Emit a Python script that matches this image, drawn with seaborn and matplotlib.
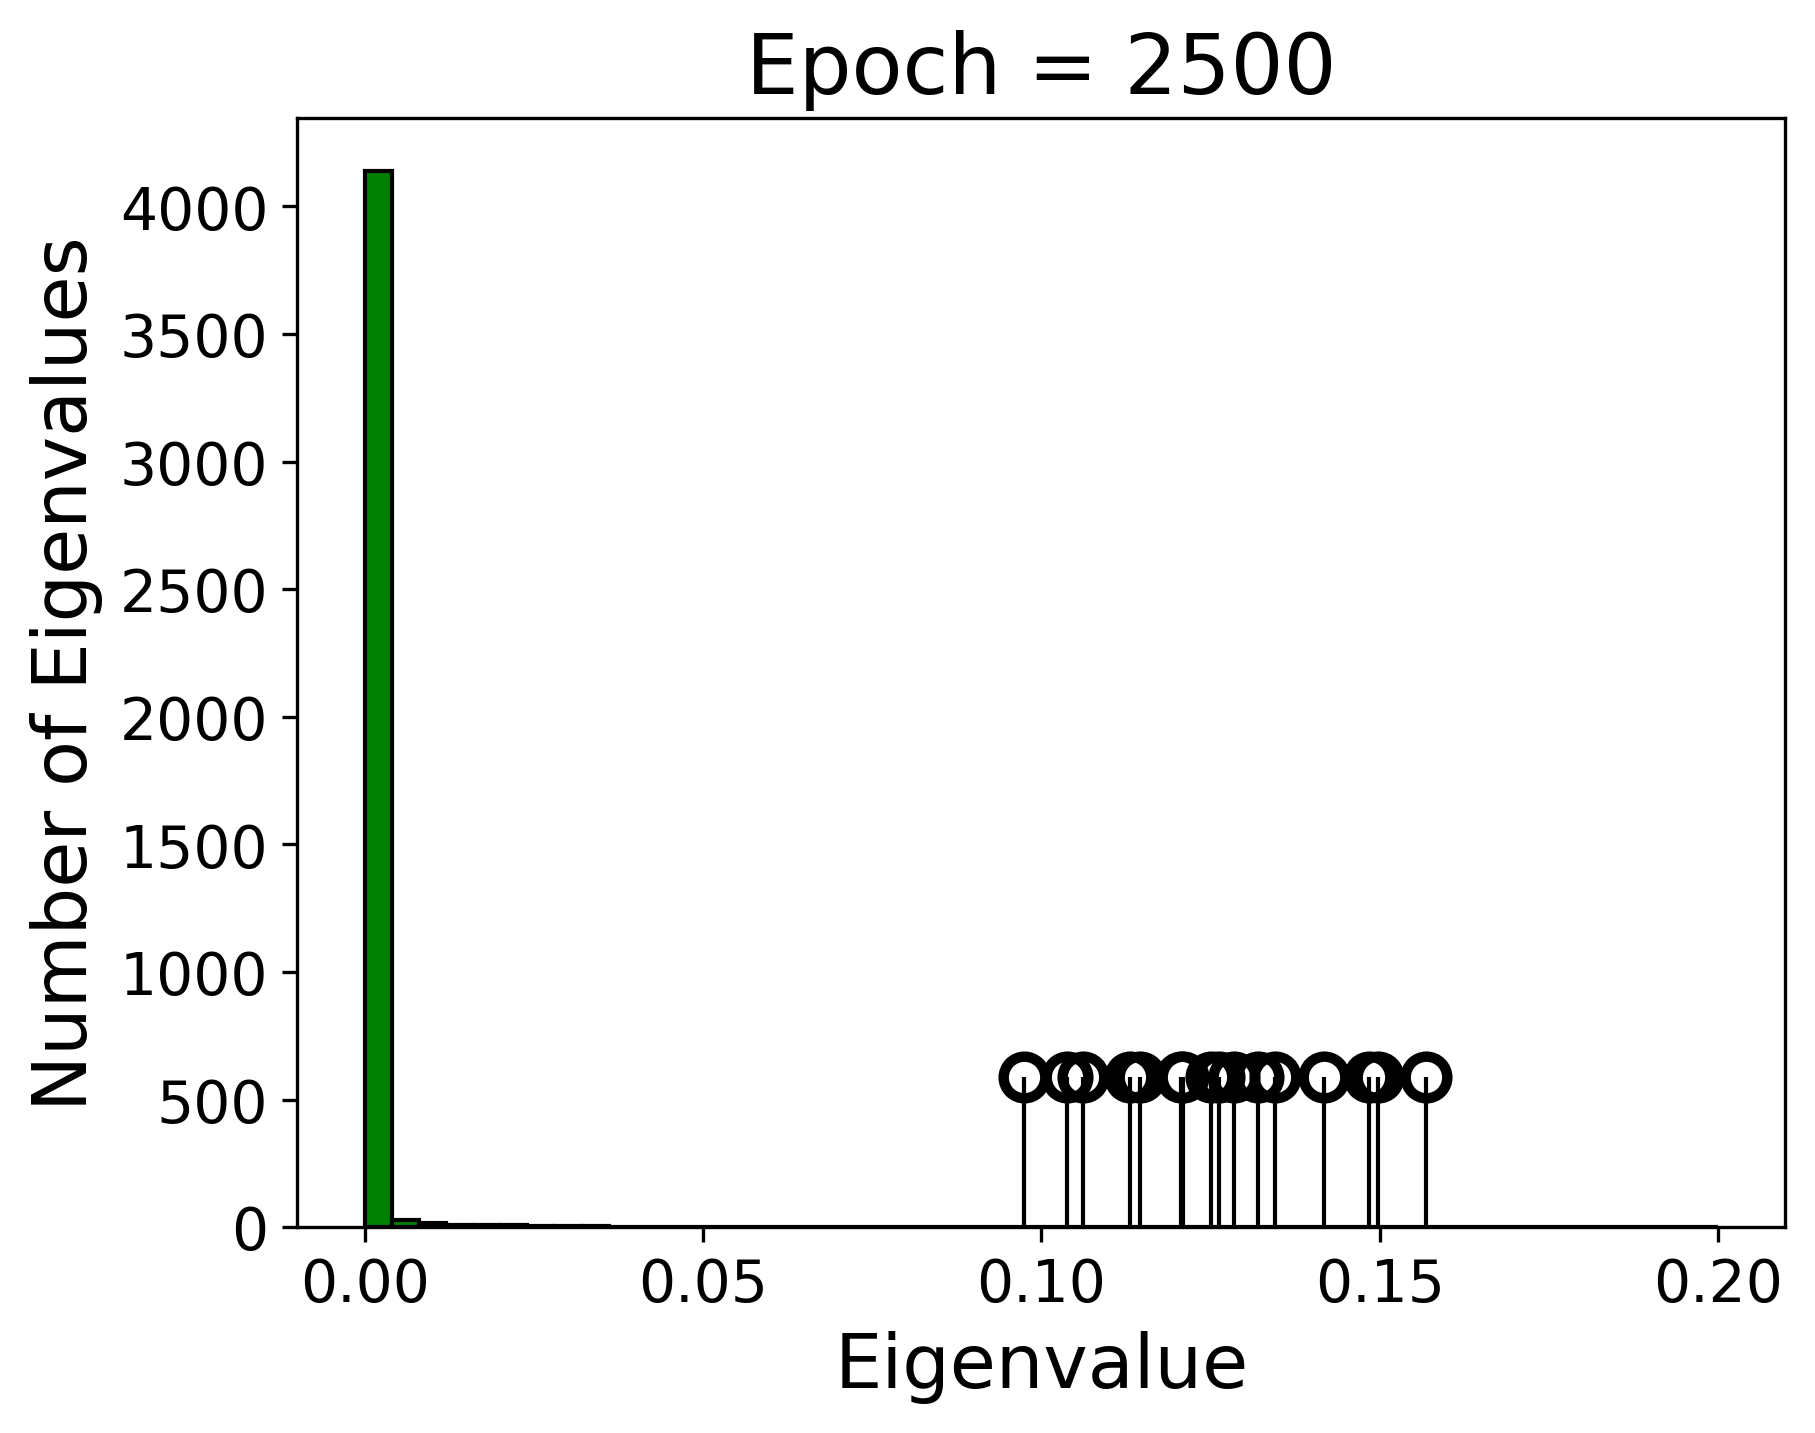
import numpy as np
import pandas as pd
import matplotlib
matplotlib.use('Agg')
import matplotlib.pyplot as plt
import seaborn as sns

# histogram: 50 bins on [0, 0.2], counts
bin_edges = np.linspace(0, 0.2, 51)
bin_counts = [4138, 28, 16, 9, 8, 7, 4, 3, 3, 2] + [0] * 40

# outlier eigenvalues drawn as stems
outliers = [0.0974, 0.1038, 0.1062, 0.1131, 0.1146, 0.1206, 0.1209, 0.1251,
            0.1263, 0.1284, 0.1320, 0.1345, 0.1418, 0.1485, 0.1497, 0.1569]
stem_height = 590
epoch = 2500
xticks = [0.00, 0.05, 0.10, 0.15, 0.20]

df = pd.DataFrame({'center': (bin_edges[:-1] + bin_edges[1:]) / 2,
                   'count': bin_counts})

fig, ax = plt.subplots(figsize=(6.4, 4.8))
sns.histplot(data=df, x='center', weights='count', binwidth=0.004, binrange=(0, 0.2),
             color='green', edgecolor='black', linewidth=1, alpha=1, ax=ax)

markerline, stemlines, baseline = ax.stem(outliers, [stem_height] * len(outliers),
                                          linefmt='k-', markerfmt='ko', basefmt=' ')
plt.setp(markerline, markerfacecolor='none', markeredgecolor='black',
         markersize=10, markeredgewidth=2.5)
plt.setp(stemlines, linewidth=1)

ax.set_xlim(-0.01, 0.21)
ax.set_ylim(0, 4345)
ax.set_xticks(xticks)
ax.set_title(f'Epoch = {epoch}', fontsize=20)
ax.set_xlabel('Eigenvalue', fontsize=18)
ax.set_ylabel('Number of Eigenvalues', fontsize=18)
ax.tick_params(labelsize=14)

plt.savefig('out.png', dpi=300, bbox_inches='tight')
